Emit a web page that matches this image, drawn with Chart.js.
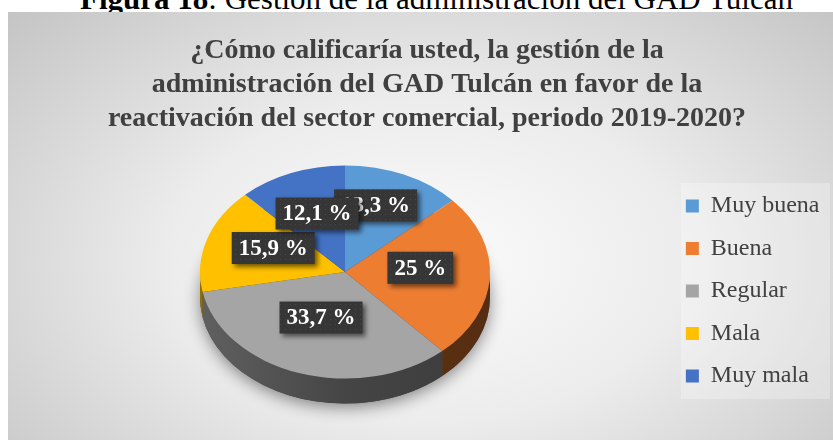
<!DOCTYPE html>
<html>
<head>
<meta charset="utf-8">
<script src="https://cdn.jsdelivr.net/npm/chart.js@4.4.1/dist/chart.umd.min.js"></script>
<style>
  html, body { margin:0; padding:0; background:#fff; overflow:hidden; }
  body { width:833px; height:440px; position:relative; }
  #caption {
    position:absolute; left:80px; top:-16px; white-space:nowrap;
    font:31px/30px 'Liberation Serif', serif; color:#000;
  }
  #box {
    position:absolute; left:8px; top:12px; width:825px; height:428px;
    background: radial-gradient(ellipse 70% 85% at 51% 58%, #fbfbfb 0%, #ececec 45%, #c4c4c4 100%);
  }
</style>
</head>
<body>
<div id="caption"><b>Figura 18</b>: Gestión de la administración del GAD Tulcán</div>
<div id="box"><canvas id="pie"></canvas></div>
<script>
// ── DATA ────────────────────────────────────────────────
const CATEGORIES = ['Muy buena', 'Buena', 'Regular', 'Mala', 'Muy mala'];
const PERCENTS   = [13.3, 25, 33.7, 15.9, 12.1];
const COLORS     = ['#5B9BD5', '#ED7D31', '#A5A5A5', '#FFC000', '#4472C4'];
const TITLE_LINES = [
  '¿Cómo calificaría usted, la gestión de la',
  'administración del GAD Tulcán en favor de la',
  'reactivación del sector comercial, periodo 2019-2020?',
];

// ── LOOK (canvas px) ────────────────────────────────────
const PIE   = { cx:337, cy:260, sy:0.735, depth:25 };
const LABEL = { r:0.52, dy:-7, shift:[[0,-9],[0,0],[0,0],[0,0],[0,0]] };
const LEGEND_BG = { x:673, y:171, w:149, h:216 };

const fmt = v => String(v).replace('.', ',') + ' %';

const shade = (hex, k) => {
  const n = parseInt(hex.slice(1), 16);
  const c = [(n >> 16) & 255, (n >> 8) & 255, n & 255].map(v => Math.round(v * k));
  return `rgb(${c[0]},${c[1]},${c[2]})`;
};

// dotted dark fill for the value boxes
const dots = (() => {
  const c = document.createElement('canvas');
  c.width = 5; c.height = 5;
  const g = c.getContext('2d');
  g.fillStyle = '#363636'; g.fillRect(0, 0, 5, 5);
  g.fillStyle = '#474747'; g.fillRect(2, 2, 1, 1);
  return c;
})();

// ── 3D PIE PLUGIN ───────────────────────────────────────
const pie3d = {
  id: 'pie3d',
  beforeDraw(chart) {
    const ctx = chart.ctx;
    ctx.save();
    ctx.fillStyle = 'rgba(255,255,255,0.28)';
    ctx.fillRect(LEGEND_BG.x, LEGEND_BG.y, LEGEND_BG.w, LEGEND_BG.h);
    ctx.restore();
  },
  beforeDatasetsDraw(chart) {
    const ctx  = chart.ctx;
    const arcs = chart.getDatasetMeta(0).data;
    const a0   = arcs[0];
    const r    = a0.outerRadius;
    const d    = PIE.depth / PIE.sy;

    ctx.save();
    ctx.translate(PIE.cx, PIE.cy);
    ctx.scale(1, PIE.sy);
    ctx.translate(-a0.x, -a0.y);

    // soft shadow under the disc
    ctx.save();
    ctx.shadowColor = 'rgba(0,0,0,0.45)';
    ctx.shadowBlur = 16;
    ctx.shadowOffsetY = 4;
    ctx.beginPath();
    ctx.arc(a0.x, a0.y + d, r, 0, Math.PI * 2);
    ctx.fillStyle = '#444';
    ctx.fill();
    ctx.restore();

    // side walls, front half only
    arcs.forEach((arc, i) => {
      const s = Math.max(arc.startAngle, 0);
      const e = Math.min(arc.endAngle, Math.PI);
      if (e <= s) return;
      const grad = ctx.createLinearGradient(arc.x - r, 0, arc.x + r, 0);
      grad.addColorStop(0,   shade(COLORS[i], 0.58));
      grad.addColorStop(0.5, shade(COLORS[i], 0.42));
      grad.addColorStop(1,   shade(COLORS[i], 0.36));
      ctx.beginPath();
      ctx.arc(arc.x, arc.y, r, s, e);
      ctx.arc(arc.x, arc.y + d, r, e, s, true);
      ctx.closePath();
      ctx.fillStyle = grad;
      ctx.fill();
    });
  },
  afterDatasetsDraw(chart) {
    const ctx  = chart.ctx;
    ctx.restore();

    const arcs = chart.getDatasetMeta(0).data;
    ctx.save();
    ctx.font = "bold 23px 'Liberation Serif'";
    ctx.textAlign = 'center';
    ctx.textBaseline = 'middle';
    const pat = ctx.createPattern(dots, 'repeat');
    arcs.forEach((arc, i) => {
      const mid = (arc.startAngle + arc.endAngle) / 2;
      const rr  = arc.outerRadius * LABEL.r;
      const x = PIE.cx + Math.cos(mid) * rr + LABEL.shift[i][0];
      const y = PIE.cy + Math.sin(mid) * rr * PIE.sy + LABEL.dy + LABEL.shift[i][1];
      const txt = fmt(PERCENTS[i]);
      const w = ctx.measureText(txt).width + 14;
      const h = 32;
      ctx.save();
      ctx.shadowColor = 'rgba(0,0,0,0.55)';
      ctx.shadowBlur = 5;
      ctx.shadowOffsetX = 3;
      ctx.shadowOffsetY = 3;
      ctx.fillStyle = pat;
      ctx.fillRect(x - w / 2, y - h / 2, w, h);
      ctx.restore();
      ctx.fillStyle = '#fff';
      ctx.fillText(txt, x, y + 1);
    });
    ctx.restore();
  }
};

// ── CHART ───────────────────────────────────────────────
new Chart(document.getElementById('pie'), {
  type: 'pie',
  data: {
    labels: CATEGORIES,
    datasets: [{
      data: PERCENTS,
      backgroundColor: COLORS,
      borderWidth: 0,
      radius: 145,
      clip: false,
    }]
  },
  options: {
    responsive: true,
    maintainAspectRatio: false,
    animation: false,
    events: [],
    layout: { padding: { left: 16.5, right: 3.5, top: 0, bottom: 0 } },
    plugins: {
      tooltip: { enabled: false },
      title: {
        display: true,
        text: TITLE_LINES,
        color: '#404040',
        font: { family: 'Liberation Serif', size: 28, weight: 'bold', lineHeight: 34 / 28 },
        padding: { top: 22, bottom: 6 },
      },
      legend: {
        position: 'right',
        fullSize: false,
        labels: {
          color: '#404040',
          font: { family: 'Liberation Serif', size: 24 },
          boxWidth: 13,
          boxHeight: 13,
          padding: 18.5,
        }
      }
    }
  },
  plugins: [pie3d]
});
</script>
</body>
</html>
